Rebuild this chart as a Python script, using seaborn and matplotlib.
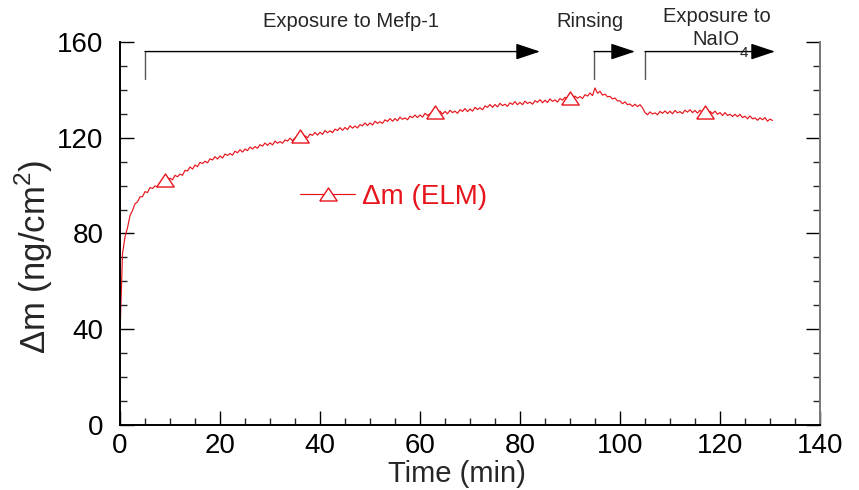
import numpy as np
import pandas as pd
import matplotlib
matplotlib.use("Agg")
import matplotlib.pyplot as plt
import seaborn as sns
from matplotlib.ticker import MultipleLocator

# ---- data ----
time_min = np.arange(0, 131, 0.5)  # sampling grid, 0 .. 130.5 min
dm_elm = [
    38.0, 71.5, 78.6, 82.4, 87.5, 89.6, 92.4, 93.2, 95.3, 95.4,
    97.5, 97.1, 99.2, 98.8, 99.9, 99.4, 101.3, 100.9, 102.4, 101.4,
    103.1, 102.4, 104.3, 103.7, 104.8, 104.3, 106.4, 106.1, 107.8, 106.9,
    108.6, 107.9, 109.7, 109.2, 110.2, 109.5, 111.2, 110.7, 112.1, 111.1,
    112.4, 111.5, 113.2, 112.6, 113.4, 112.7, 114.4, 113.7, 115.0, 114.0,
    115.3, 114.6, 116.1, 115.3, 116.3, 115.6, 117.1, 116.5, 117.8, 116.8,
    117.9, 117.0, 118.6, 117.7, 118.4, 117.7, 119.1, 118.6, 119.8, 118.8,
    119.9, 119.0, 120.6, 119.9, 120.8, 120.0, 121.5, 121.0, 122.2, 121.1,
    122.3, 121.4, 123.0, 122.1, 122.9, 122.1, 123.6, 123.0, 124.2, 123.1,
    124.3, 123.4, 125.0, 124.0, 124.9, 124.1, 125.5, 125.0, 126.2, 125.1,
    126.2, 125.3, 126.9, 126.0, 126.7, 126.0, 127.5, 126.8, 128.0, 126.9,
    128.0, 127.1, 128.6, 127.7, 128.3, 127.5, 129.0, 128.4, 129.5, 128.4,
    129.5, 128.6, 130.2, 129.3, 130.0, 129.2, 130.7, 130.0, 131.1, 129.9,
    131.0, 130.0, 131.5, 130.5, 131.1, 130.2, 131.7, 131.0, 132.2, 130.9,
    132.0, 131.1, 132.7, 131.8, 132.5, 131.7, 133.3, 132.7, 133.9, 132.7,
    133.9, 132.9, 134.4, 133.4, 134.0, 133.1, 134.6, 133.9, 135.1, 133.8,
    134.8, 133.8, 135.3, 134.3, 134.9, 134.0, 135.5, 134.8, 135.9, 134.6,
    135.7, 134.7, 136.2, 135.2, 135.8, 134.9, 136.4, 135.7, 136.9, 135.6,
    136.7, 135.8, 137.4, 136.5, 137.2, 136.4, 138.0, 137.4, 138.7, 137.6,
    140.8, 138.6, 139.4, 137.8, 138.2, 137.1, 137.3, 136.2, 136.6, 135.4,
    135.4, 134.2, 135.0, 133.8, 134.1, 133.1, 134.0, 133.0, 133.8, 132.5,
    130.5, 129.6, 130.8, 129.9, 130.4, 129.6, 131.0, 130.2, 131.2, 130.1,
    131.1, 130.0, 131.4, 130.4, 130.9, 130.1, 131.5, 130.7, 131.7, 130.5,
    131.4, 130.3, 131.5, 130.5, 130.8, 129.9, 131.0, 130.1, 131.1, 129.8,
    130.5, 129.3, 130.5, 129.3, 129.8, 128.9, 129.8, 128.8, 129.8, 128.4,
    129.0, 127.9, 129.1, 127.9, 128.3, 127.3, 128.3, 127.5, 128.4, 126.9,
    127.8, 127.2,
]
series_label = "\u0394m (ELM)"

# phases: arrow start / end (min) and their labels
phase_starts = [5, 94.8, 105]
phase_ends = [84, 103, 131]
phase_labels = ["Exposure to Mefp-1", "Rinsing", "Exposure to", "NaIO", "4"]

x_ticks = [0, 20, 40, 60, 80, 100, 120, 140]
y_ticks = [0, 40, 80, 120, 160]

df = pd.DataFrame({"Time (min)": time_min, "dm": dm_elm})

sns.set_theme(style="white")
plt.rcParams["font.family"] = ["Liberation Sans", "DejaVu Sans"]
plt.rcParams["mathtext.fontset"] = "custom"
plt.rcParams["mathtext.rm"] = "Liberation Sans"

fig = plt.figure(figsize=(8.59, 4.90), dpi=100)
ax = fig.add_axes([0.1397, 0.1327, 0.8149, 0.7816])

red = "#e8141c"
tri = [(-1, -0.75), (1, -0.75), (0, 0.75), (-1, -0.75)]
sns.lineplot(data=df, x="Time (min)", y="dm", ax=ax, color=red, lw=0.85,
             marker=tri, markevery=(18, 54), markersize=12.5,
             markerfacecolor="white", markeredgecolor=red, markeredgewidth=1.0,
             label=series_label, estimator=None, sort=False)

ax.set_xlim(0, 140)
ax.set_ylim(0, 160)
ax.set_xticks(x_ticks)
ax.set_yticks(y_ticks)
ax.xaxis.set_minor_locator(MultipleLocator(5))
ax.yaxis.set_minor_locator(MultipleLocator(10))
ax.tick_params(axis="both", which="major", direction="in", length=10, width=1.0,
               labelsize=20, colors="black", pad=12)
ax.tick_params(axis="x", which="major", pad=6)
ax.tick_params(axis="both", which="minor", direction="in", length=5, width=1.0)
ax.tick_params(axis="y", which="both", left=True, right=True)
ax.tick_params(axis="x", which="both", bottom=True, top=False)

for s in ["left", "bottom"]:
    ax.spines[s].set_color("black")
    ax.spines[s].set_linewidth(1.4)
ax.spines["right"].set_color("#777777")
ax.spines["right"].set_linewidth(1.4)
ax.spines["top"].set_visible(False)

ax.set_xlabel("Time (min)", fontsize=21)
ax.xaxis.set_label_coords(0.481, -0.0914)
ax.set_ylabel("\u0394m (ng/cm$^2$)", fontsize=25)
ax.yaxis.set_label_coords(-0.093, 0.44)

leg = ax.legend(loc="center left", bbox_to_anchor=(0.257, 0.595), frameon=False,
                fontsize=20, handlelength=2.0, handletextpad=0.25, borderpad=0,
                borderaxespad=0, labelcolor="linecolor")

# phase arrows
y_arrow = 156.0
y_bottom = 144.4
for xs, xe in zip(phase_starts, phase_ends):
    ax.plot([xs, xs], [y_bottom, y_arrow], color="#555555", lw=1.0, clip_on=False)
    ax.annotate("", xy=(xe, y_arrow), xytext=(xs, y_arrow),
                arrowprops=dict(arrowstyle="-|>,head_length=0.75,head_width=0.25",
                                color="black", lw=1.0, mutation_scale=20,
                                shrinkA=0, shrinkB=0),
                annotation_clip=False)

ax.text(46.2, 168.6, phase_labels[0], ha="center", va="center", fontsize=14.5)
ax.text(94.0, 168.6, phase_labels[1], ha="center", va="center", fontsize=14.5)
ax.text(119.4, 170.7, phase_labels[2], ha="center", va="center", fontsize=14.5)
ax.text(119.2, 161.1, phase_labels[3], ha="center", va="center", fontsize=14.5)
ax.text(124.8, 155.2, phase_labels[4], ha="center", va="center", fontsize=11)

fig.savefig("out.png", dpi=100)
